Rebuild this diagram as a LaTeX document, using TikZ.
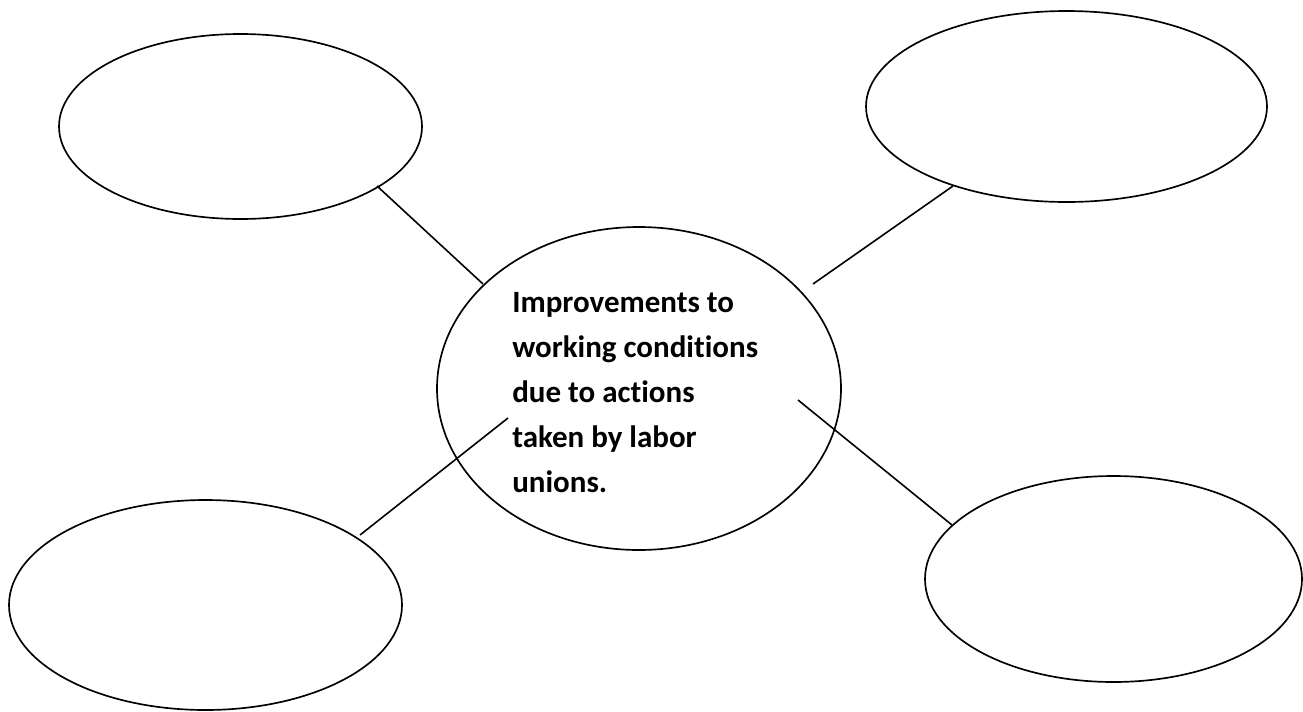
\documentclass[tikz,border=0pt]{standalone}
\usepackage{fontspec}
\setmainfont{Carlito}[Ligatures=NoCommon]
\usetikzlibrary{shapes.geometric}
\tikzset{
  bubble/.style={draw=black, line width=1.25pt, ellipse, inner sep=0pt},
  link/.style={draw=black, line width=1.2pt},
  centertext/.style={anchor=north west, inner sep=0pt, align=left,
    font=\fontsize{23.25pt}{33.75pt}\selectfont\bfseries}
}
\begin{document}
\begin{tikzpicture}[x=0.75pt,y=-0.75pt]
\useasboundingbox (0,0) rectangle (1303,711);
\fill[white] (0,0) rectangle (1303,711);
\node[bubble, minimum width=272.25pt, minimum height=138.75pt] (tl) at (240.5,126.5) {};
\node[bubble, minimum width=300.75pt, minimum height=143.25pt] (tr) at (1066.5,106.5) {};
\node[bubble, minimum width=303pt, minimum height=242.25pt] (c) at (639,388.5) {};
\node[bubble, minimum width=294.75pt, minimum height=157.5pt] (bl) at (205.5,605) {};
\node[bubble, minimum width=282.75pt, minimum height=154.5pt] (br) at (1113.5,579) {};
\node[centertext] (label) at (512,292) {Improvements to\\working conditions\\due to actions\\taken by labor\\unions.};
\coordinate (tlA) at (377,186);
\coordinate (tlB) at (483,284);
\coordinate (trA) at (953,186);
\coordinate (trB) at (813,284);
\coordinate (blA) at (508,418);
\coordinate (blB) at (360,535);
\coordinate (brA) at (798,400);
\coordinate (brB) at (952,525);
\draw[link] (tlA) -- (tlB);
\draw[link] (trA) -- (trB);
\draw[link] (blA) -- (blB);
\draw[link] (brA) -- (brB);
\end{tikzpicture}
\end{document}
